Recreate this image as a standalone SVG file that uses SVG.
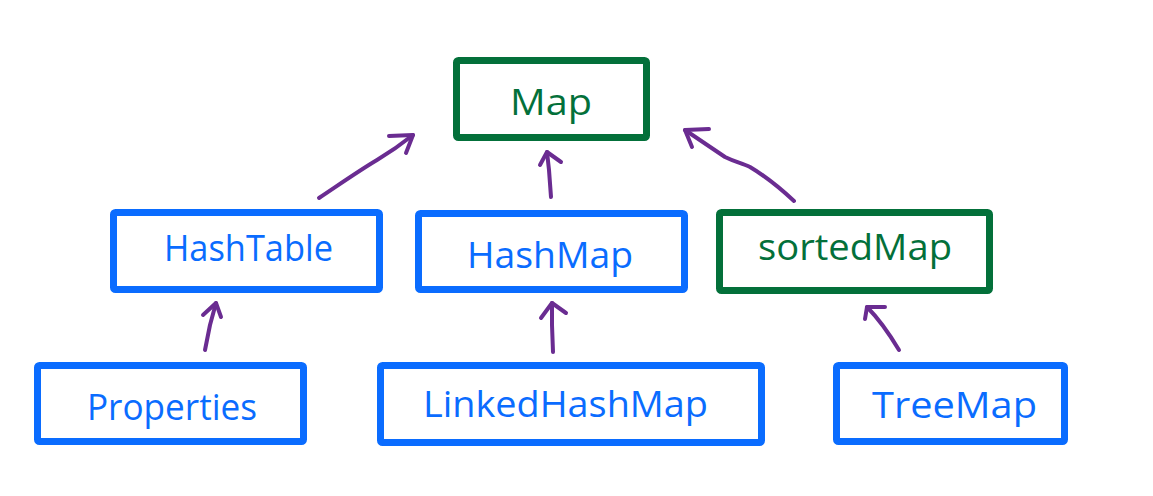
<svg xmlns="http://www.w3.org/2000/svg" width="1153" height="496" viewBox="0 0 1153 496">
  <defs>
    <style>
      .box { fill: #ffffff; stroke-width: 7; stroke-linejoin: round; }
      .blue { stroke: #0a6cff; }
      .green { stroke: #03703a; }
      .lbl { font-family: "Open Sans", "Liberation Sans", sans-serif; font-size: 36px; }
      .tblue { fill: #0a6cff; }
      .tgreen { fill: #03703a; }
      .arr { fill: none; stroke: #6a2c91; stroke-width: 4; stroke-linecap: round; stroke-linejoin: round; }
    </style>
  </defs>
  <rect width="1153" height="496" fill="#ffffff"/>

  <g id="node-map">
    <rect class="box green" x="456.5" y="60.5" width="190" height="77" rx="2"/>
    <text class="lbl tgreen" x="510" y="115" textLength="82" lengthAdjust="spacingAndGlyphs">Map</text>
  </g>
  <g id="node-hashtable">
    <rect class="box blue" x="113.5" y="212.5" width="266" height="77" rx="2"/>
    <text class="lbl tblue" x="164" y="261" textLength="169" lengthAdjust="spacingAndGlyphs">HashTable</text>
  </g>
  <g id="node-hashmap">
    <rect class="box blue" x="418.5" y="213.5" width="266" height="76" rx="2"/>
    <text class="lbl tblue" x="467" y="268" textLength="166" lengthAdjust="spacingAndGlyphs">HashMap</text>
  </g>
  <g id="node-sortedmap">
    <rect class="box green" x="719.5" y="212.5" width="270" height="78" rx="2"/>
    <text class="lbl tgreen" x="758" y="260" textLength="194" lengthAdjust="spacingAndGlyphs">sortedMap</text>
  </g>
  <g id="node-properties">
    <rect class="box blue" x="37.5" y="365.5" width="266" height="76" rx="2"/>
    <text class="lbl tblue" x="87" y="420" textLength="170" lengthAdjust="spacingAndGlyphs">Properties</text>
  </g>
  <g id="node-linkedhashmap">
    <rect class="box blue" x="380.5" y="365.5" width="381" height="77" rx="2"/>
    <text class="lbl tblue" x="423" y="417" textLength="285" lengthAdjust="spacingAndGlyphs">LinkedHashMap</text>
  </g>
  <g id="node-treemap">
    <rect class="box blue" x="836.5" y="365.5" width="228" height="76" rx="2"/>
    <text class="lbl tblue" x="872" y="418" textLength="165" lengthAdjust="spacingAndGlyphs">TreeMap</text>
  </g>

  <g id="connectors">
    <path class="arr" d="M319,198 C340,184 360,170 377,160 C392,151 403,143 413,135"/>
    <path class="arr" d="M389,136 L413,135 L406,153"/>
    <path class="arr" d="M551,197 L549,170 L547,152"/>
    <path class="arr" d="M540,165 L547,152 L561,162"/>
    <path class="arr" d="M794,201 C780,188 765,176 750,167 C742,163 735,162 725,157 L685,130"/>
    <path class="arr" d="M709,129 L685,130 L692,147"/>
    <path class="arr" d="M205,350 L210,325 L216,303"/>
    <path class="arr" d="M203,315 L216,303 L221,317"/>
    <path class="arr" d="M553,352 L552,325 L552,303"/>
    <path class="arr" d="M541,318 L552,303 L566,313"/>
    <path class="arr" d="M899,350 C890,335 880,320 867,307"/>
    <path class="arr" d="M865,319 L867,307 L885,307"/>
  </g>
</svg>
